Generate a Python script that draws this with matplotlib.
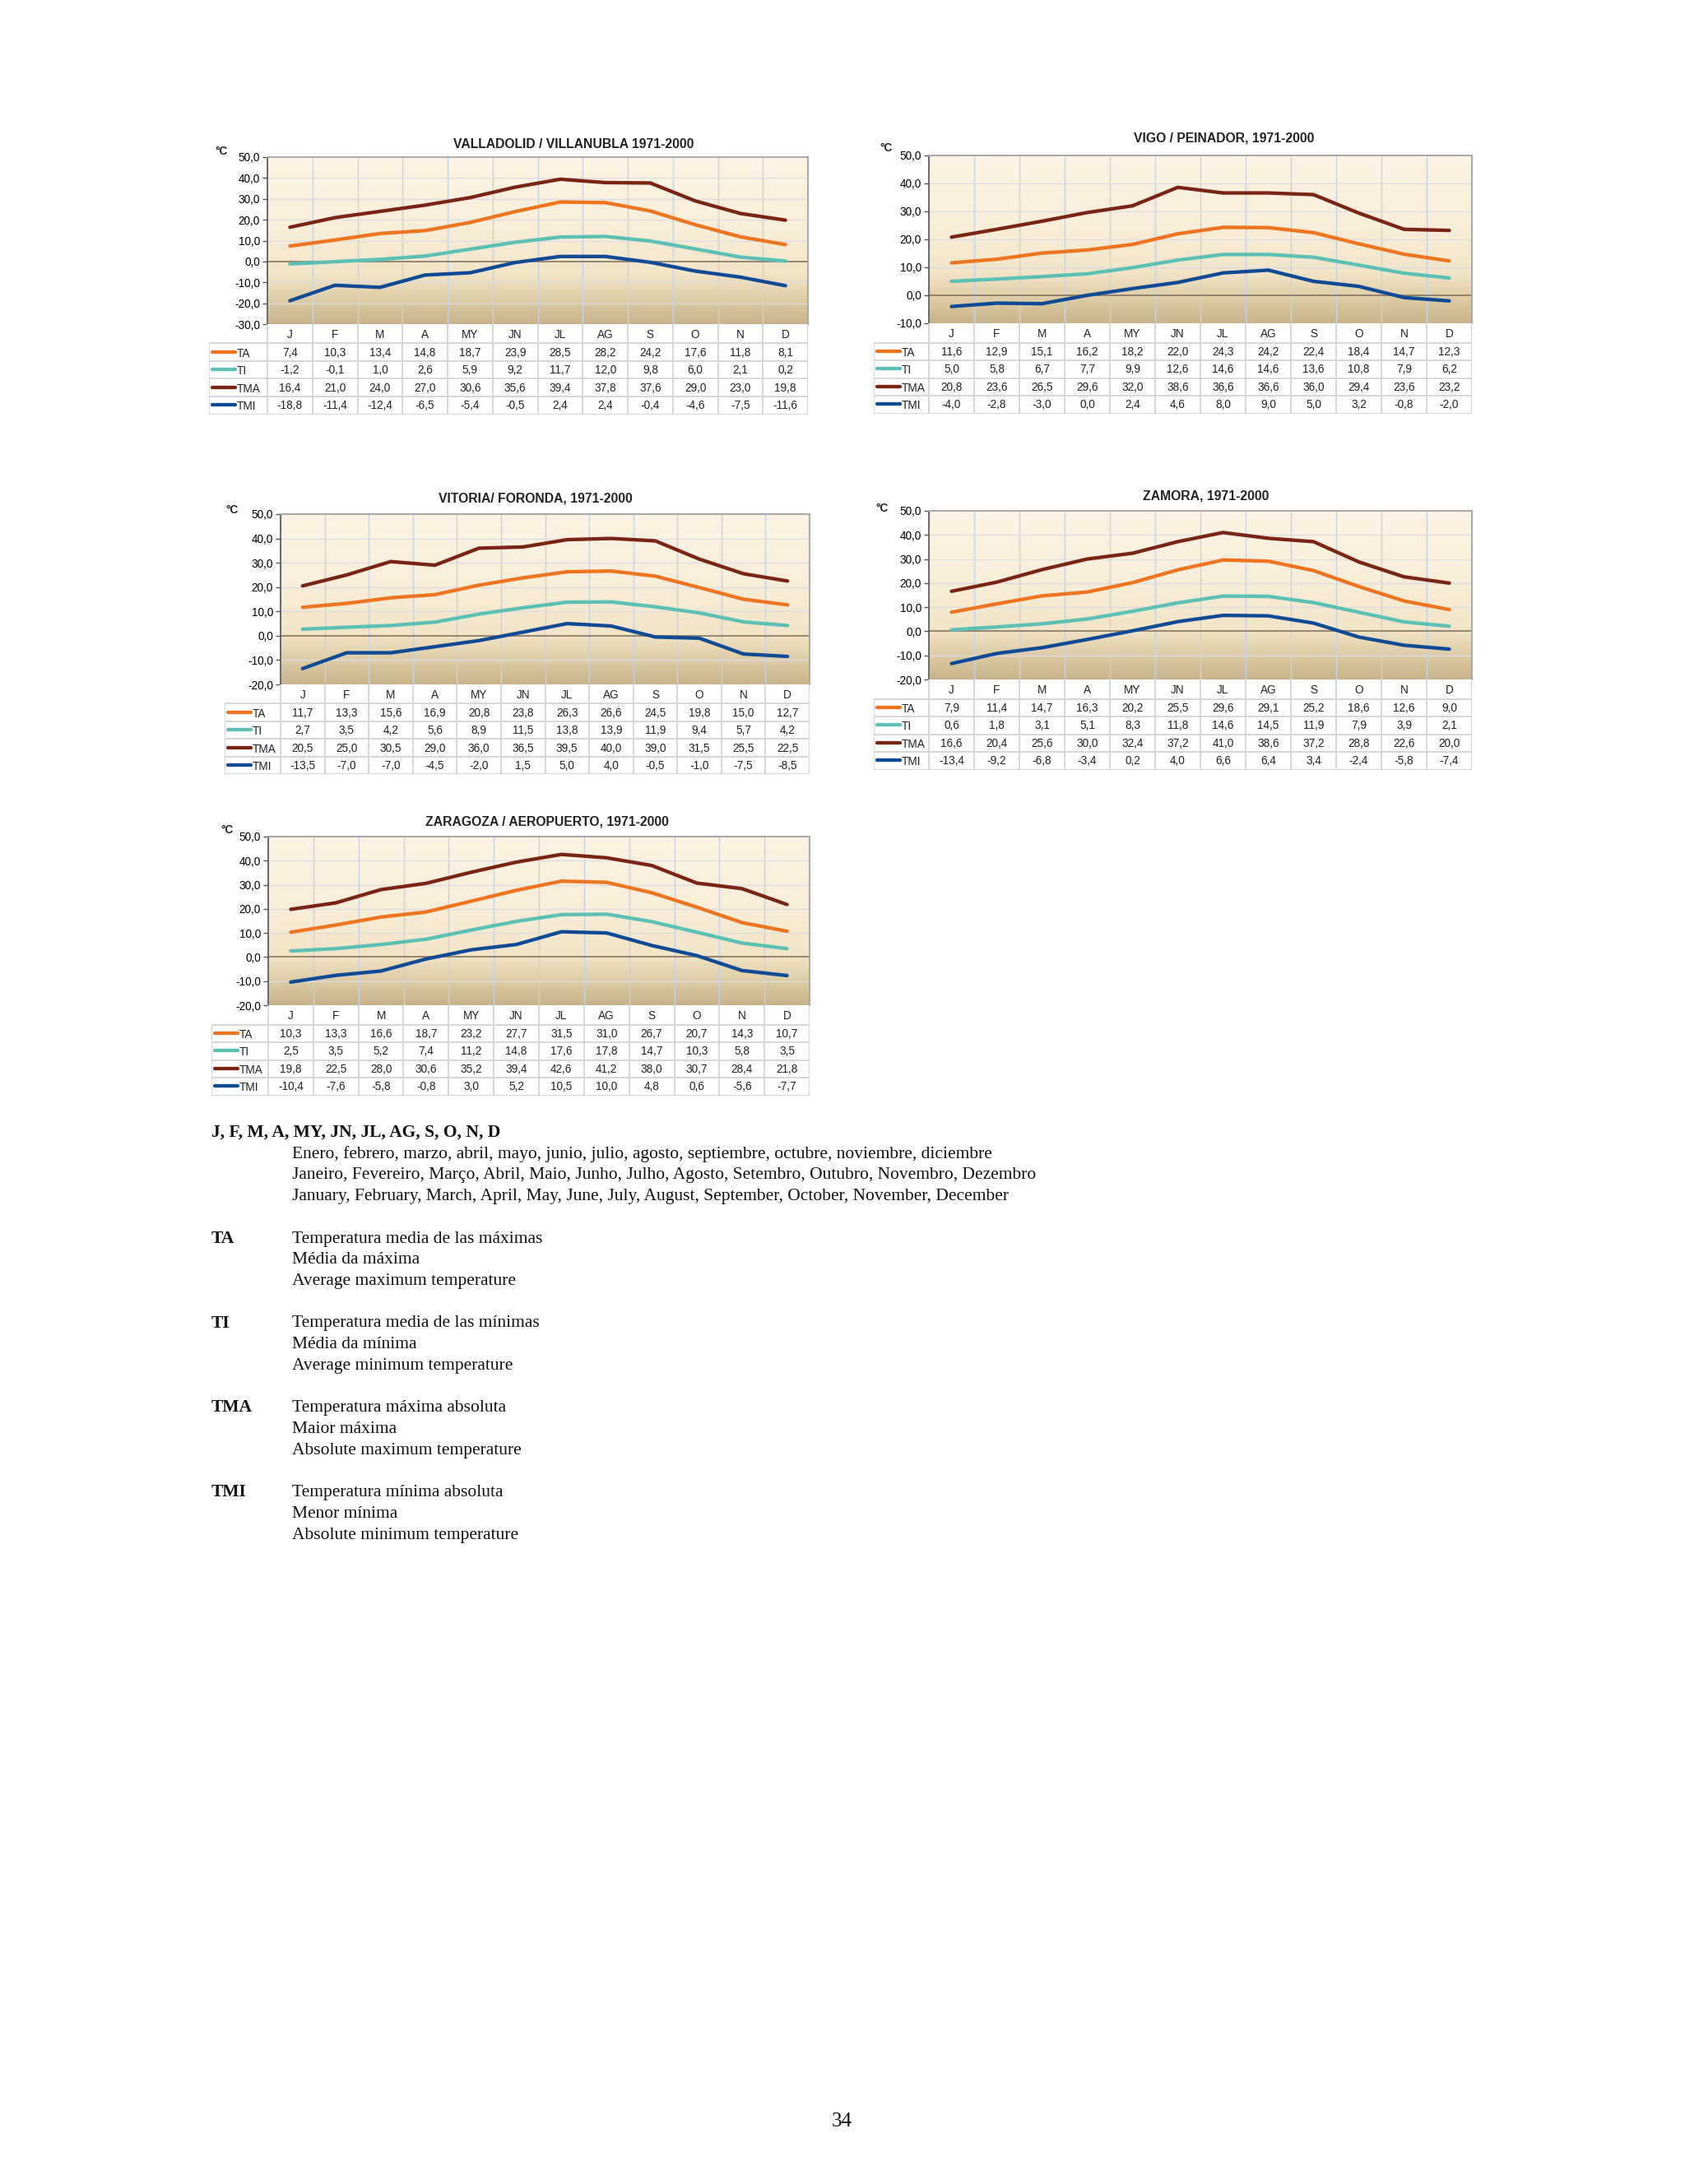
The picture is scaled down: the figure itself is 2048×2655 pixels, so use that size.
import numpy as np
import matplotlib
matplotlib.use("Agg")
import matplotlib.pyplot as plt
from matplotlib.colors import LinearSegmentedColormap

# ---- data -------------------------------------------------------------
months = ["J", "F", "M", "A", "MY", "JN", "JL", "AG", "S", "O", "N", "D"]
series_names = ["TA", "TI", "TMA", "TMI"]

valladolid_ta = [7.4, 10.3, 13.4, 14.8, 18.7, 23.9, 28.5, 28.2, 24.2, 17.6, 11.8, 8.1]
valladolid_ti = [-1.2, -0.1, 1.0, 2.6, 5.9, 9.2, 11.7, 12.0, 9.8, 6.0, 2.1, 0.2]
valladolid_tma = [16.4, 21.0, 24.0, 27.0, 30.6, 35.6, 39.4, 37.8, 37.6, 29.0, 23.0, 19.8]
valladolid_tmi = [-18.8, -11.4, -12.4, -6.5, -5.4, -0.5, 2.4, 2.4, -0.4, -4.6, -7.5, -11.6]

vigo_ta = [11.6, 12.9, 15.1, 16.2, 18.2, 22.0, 24.3, 24.2, 22.4, 18.4, 14.7, 12.3]
vigo_ti = [5.0, 5.8, 6.7, 7.7, 9.9, 12.6, 14.6, 14.6, 13.6, 10.8, 7.9, 6.2]
vigo_tma = [20.8, 23.6, 26.5, 29.6, 32.0, 38.6, 36.6, 36.6, 36.0, 29.4, 23.6, 23.2]
vigo_tmi = [-4.0, -2.8, -3.0, 0.0, 2.4, 4.6, 8.0, 9.0, 5.0, 3.2, -0.8, -2.0]

vitoria_ta = [11.7, 13.3, 15.6, 16.9, 20.8, 23.8, 26.3, 26.6, 24.5, 19.8, 15.0, 12.7]
vitoria_ti = [2.7, 3.5, 4.2, 5.6, 8.9, 11.5, 13.8, 13.9, 11.9, 9.4, 5.7, 4.2]
vitoria_tma = [20.5, 25.0, 30.5, 29.0, 36.0, 36.5, 39.5, 40.0, 39.0, 31.5, 25.5, 22.5]
vitoria_tmi = [-13.5, -7.0, -7.0, -4.5, -2.0, 1.5, 5.0, 4.0, -0.5, -1.0, -7.5, -8.5]

zamora_ta = [7.9, 11.4, 14.7, 16.3, 20.2, 25.5, 29.6, 29.1, 25.2, 18.6, 12.6, 9.0]
zamora_ti = [0.6, 1.8, 3.1, 5.1, 8.3, 11.8, 14.6, 14.5, 11.9, 7.9, 3.9, 2.1]
zamora_tma = [16.6, 20.4, 25.6, 30.0, 32.4, 37.2, 41.0, 38.6, 37.2, 28.8, 22.6, 20.0]
zamora_tmi = [-13.4, -9.2, -6.8, -3.4, 0.2, 4.0, 6.6, 6.4, 3.4, -2.4, -5.8, -7.4]

zaragoza_ta = [10.3, 13.3, 16.6, 18.7, 23.2, 27.7, 31.5, 31.0, 26.7, 20.7, 14.3, 10.7]
zaragoza_ti = [2.5, 3.5, 5.2, 7.4, 11.2, 14.8, 17.6, 17.8, 14.7, 10.3, 5.8, 3.5]
zaragoza_tma = [19.8, 22.5, 28.0, 30.6, 35.2, 39.4, 42.6, 41.2, 38.0, 30.7, 28.4, 21.8]
zaragoza_tmi = [-10.4, -7.6, -5.8, -0.8, 3.0, 5.2, 10.5, 10.0, 4.8, 0.6, -5.6, -7.7]

titles = ["VALLADOLID / VILLANUBLA 1971-2000", "VIGO / PEINADOR, 1971-2000",
          "VITORIA/ FORONDA, 1971-2000", "ZAMORA, 1971-2000",
          "ZARAGOZA / AEROPUERTO, 1971-2000"]

colors = {"TA": "#EE7420", "TI": "#5CC0B5", "TMA": "#7A2413", "TMI": "#0F4A94"}

# ---- page geometry (pixels on the 2048x2655 page) -----------------------
W, H = 2048, 2655
fig = plt.figure(figsize=(W / 200, H / 200), dpi=200)
fig.patch.set_facecolor("white")

SANS = ["Liberation Sans", "DejaVu Sans"]
SERIF = ["Liberation Serif", "DejaVu Serif"]


def fx(x):
    return x / W


def fy(y):
    return 1 - y / H


def fmt(v):
    return f"{v:.1f}".replace(".", ",")


grad_cmap = LinearSegmentedColormap.from_list(
    "bg", [(0.0, "#C8B48C"), (0.14, "#DCCBA5"), (0.30, "#F2E5C8"), (0.6, "#F9EEDA"), (1.0, "#FCF3E4")])

# (plot left, top, right, bottom, table left, title x, title y, degC x, degC y, ymin)
layouts = [
    (325, 191, 982, 394, 254, 697, 176, 269, 184, -30),
    (1129, 189, 1789, 393, 1062, 1488, 168, 1077, 180, -10),
    (341, 625, 984, 832, 273, 651, 606, 282, 620, -20),
    (1129, 621, 1789, 826, 1062, 1466, 603, 1072, 618, -20),
    (326, 1017, 984, 1222, 257, 665, 999, 276, 1009, -20),
]

stations = [
    [valladolid_ta, valladolid_ti, valladolid_tma, valladolid_tmi],
    [vigo_ta, vigo_ti, vigo_tma, vigo_tmi],
    [vitoria_ta, vitoria_ti, vitoria_tma, vitoria_tmi],
    [zamora_ta, zamora_ti, zamora_tma, zamora_tmi],
    [zaragoza_ta, zaragoza_ti, zaragoza_tma, zaragoza_tmi],
]

HEAD_H, ROW_H = 23.5, 21.5
grid_v = "#C9D2DE"
cell_c = "#D6D6D6"

for (pl, pt, pr, pb, tl, tx, ty, cx, cy, ymin), title, data in zip(layouts, titles, stations):
    ax = fig.add_axes([fx(pl), fy(pb), fx(pr - pl), (pb - pt) / H])
    ax.set_xlim(-0.5, 11.5)
    ax.set_ylim(ymin, 50)
    ax.imshow(np.linspace(0, 1, 256).reshape(-1, 1), cmap=grad_cmap, origin="lower",
              extent=(-0.5, 11.5, ymin, 50), aspect="auto", zorder=0)
    for k in range(13):
        ax.axvline(k - 0.5, color=grid_v, lw=0.5, zorder=1)
    for yv in range(ymin + 10, 50, 10):
        if yv != 0:
            ax.axhline(yv, color="#DCDCE2", lw=0.45, zorder=1)
    ax.axhline(0, color="#857563", lw=0.6, zorder=2)
    x = np.arange(12)
    for name, vals in zip(series_names, data):
        ax.plot(x, vals, color=colors[name], lw=1.55, solid_joinstyle="round",
                solid_capstyle="round", zorder=3)
    ax.set_yticks(np.arange(ymin, 51, 10))
    ax.set_yticklabels([fmt(v) for v in np.arange(ymin, 51, 10)], family=SANS, fontsize=4.9)
    ax.set_xticks([])
    ax.tick_params(axis="y", length=2.0, width=0.5, color="#555555", pad=1.2)
    for side in ["top", "right"]:
        ax.spines[side].set_color("#A8A8A8")
        ax.spines[side].set_linewidth(0.7)
    ax.spines["left"].set_color("#555555")
    ax.spines["left"].set_linewidth(0.6)
    ax.spines["bottom"].set_visible(False)

    fig.text(fx(tx), fy(ty), title, family=SANS, fontsize=5.7, fontweight="bold",
             ha="center", va="center", color="#222222")
    fig.text(fx(cx), fy(cy), "°C", family=SANS, fontsize=4.9, fontweight="bold",
             ha="center", va="center", color="#222222")

    # data table under the plot
    total_h = HEAD_H + 4 * ROW_H
    tab = fig.add_axes([fx(tl), fy(pb + total_h), fx(pr - tl), total_h / H])
    colw = (pr - pl) / 12
    lead = (pl - tl) / colw
    tab.set_xlim(-0.5 - lead, 11.5)
    tab.set_ylim(total_h, 0)
    tab.axis("off")
    rows_y = [HEAD_H + i * ROW_H for i in range(5)]
    for k in range(13):
        tab.plot([k - 0.5, k - 0.5], [0, total_h], color=cell_c, lw=0.7)
    tab.plot([-0.5 - lead, -0.5 - lead], [HEAD_H, total_h], color=cell_c, lw=0.7)
    for yy in rows_y:
        tab.plot([-0.5 - lead, 11.5], [yy, yy], color=cell_c, lw=0.7)
    for k, m in enumerate(months):
        tab.text(k, HEAD_H / 2 + 1, m, family=SANS, fontsize=4.9, ha="center", va="center", color="#222222")
    for i, (name, vals) in enumerate(zip(series_names, data)):
        yc = rows_y[i] + ROW_H / 2 + 0.5
        x0 = -0.5 - lead + 4 / colw
        x1 = -0.5 - lead + 32 / colw
        tab.plot([x0, x1], [yc - 1, yc - 1], color=colors[name], lw=1.55, solid_capstyle="round")
        tab.text(x1 + 2 / colw, yc + 1, name, family=SANS, fontsize=4.9, ha="left", va="center",
                 color="#222222")
        for k, v in enumerate(vals):
            tab.text(k, yc, fmt(v), family=SANS, fontsize=4.9, ha="center", va="center", color="#222222")

# ---- glossary text ------------------------------------------------------
glossary_head = "J, F, M, A, MY, JN, JL, AG, S, O, N, D"
month_lines = [
    "Enero, febrero, marzo, abril, mayo, junio, julio, agosto, septiembre, octubre, noviembre, diciembre",
    "Janeiro, Fevereiro, Março, Abril, Maio, Junho, Julho, Agosto, Setembro, Outubro, Novembro, Dezembro",
    "January, February, March, April, May, June, July, August, September, October, November, December",
]
glossary = [
    ("TA", ["Temperatura media de las máximas", "Média da máxima", "Average maximum temperature"]),
    ("TI", ["Temperatura media de las mínimas", "Média da mínima", "Average minimum temperature"]),
    ("TMA", ["Temperatura máxima absoluta", "Maior máxima", "Absolute maximum temperature"]),
    ("TMI", ["Temperatura mínima absoluta", "Menor mínima", "Absolute minimum temperature"]),
]

TS = 7.75
fig.text(fx(257), fy(1377), glossary_head, family=SERIF, fontsize=TS, fontweight="bold",
         ha="left", va="center", color="#111111")
for i, line in enumerate(month_lines):
    fig.text(fx(355), fy(1403 + 26 * i), line, family=SERIF, fontsize=TS, ha="left",
             va="center", color="#111111")
for j, (abbr, lines) in enumerate(glossary):
    y0 = 1506 + 102.7 * j
    fig.text(fx(257), fy(y0), abbr, family=SERIF, fontsize=TS, fontweight="bold",
             ha="left", va="center", color="#111111")
    for i, line in enumerate(lines):
        fig.text(fx(355), fy(y0 + 26 * i), line, family=SERIF, fontsize=TS, ha="left",
                 va="center", color="#111111")

fig.text(fx(1023), fy(2579), "34", family=SERIF, fontsize=9, ha="center", va="center", color="#111111")

fig.savefig("out.png", dpi=200, facecolor="white")
